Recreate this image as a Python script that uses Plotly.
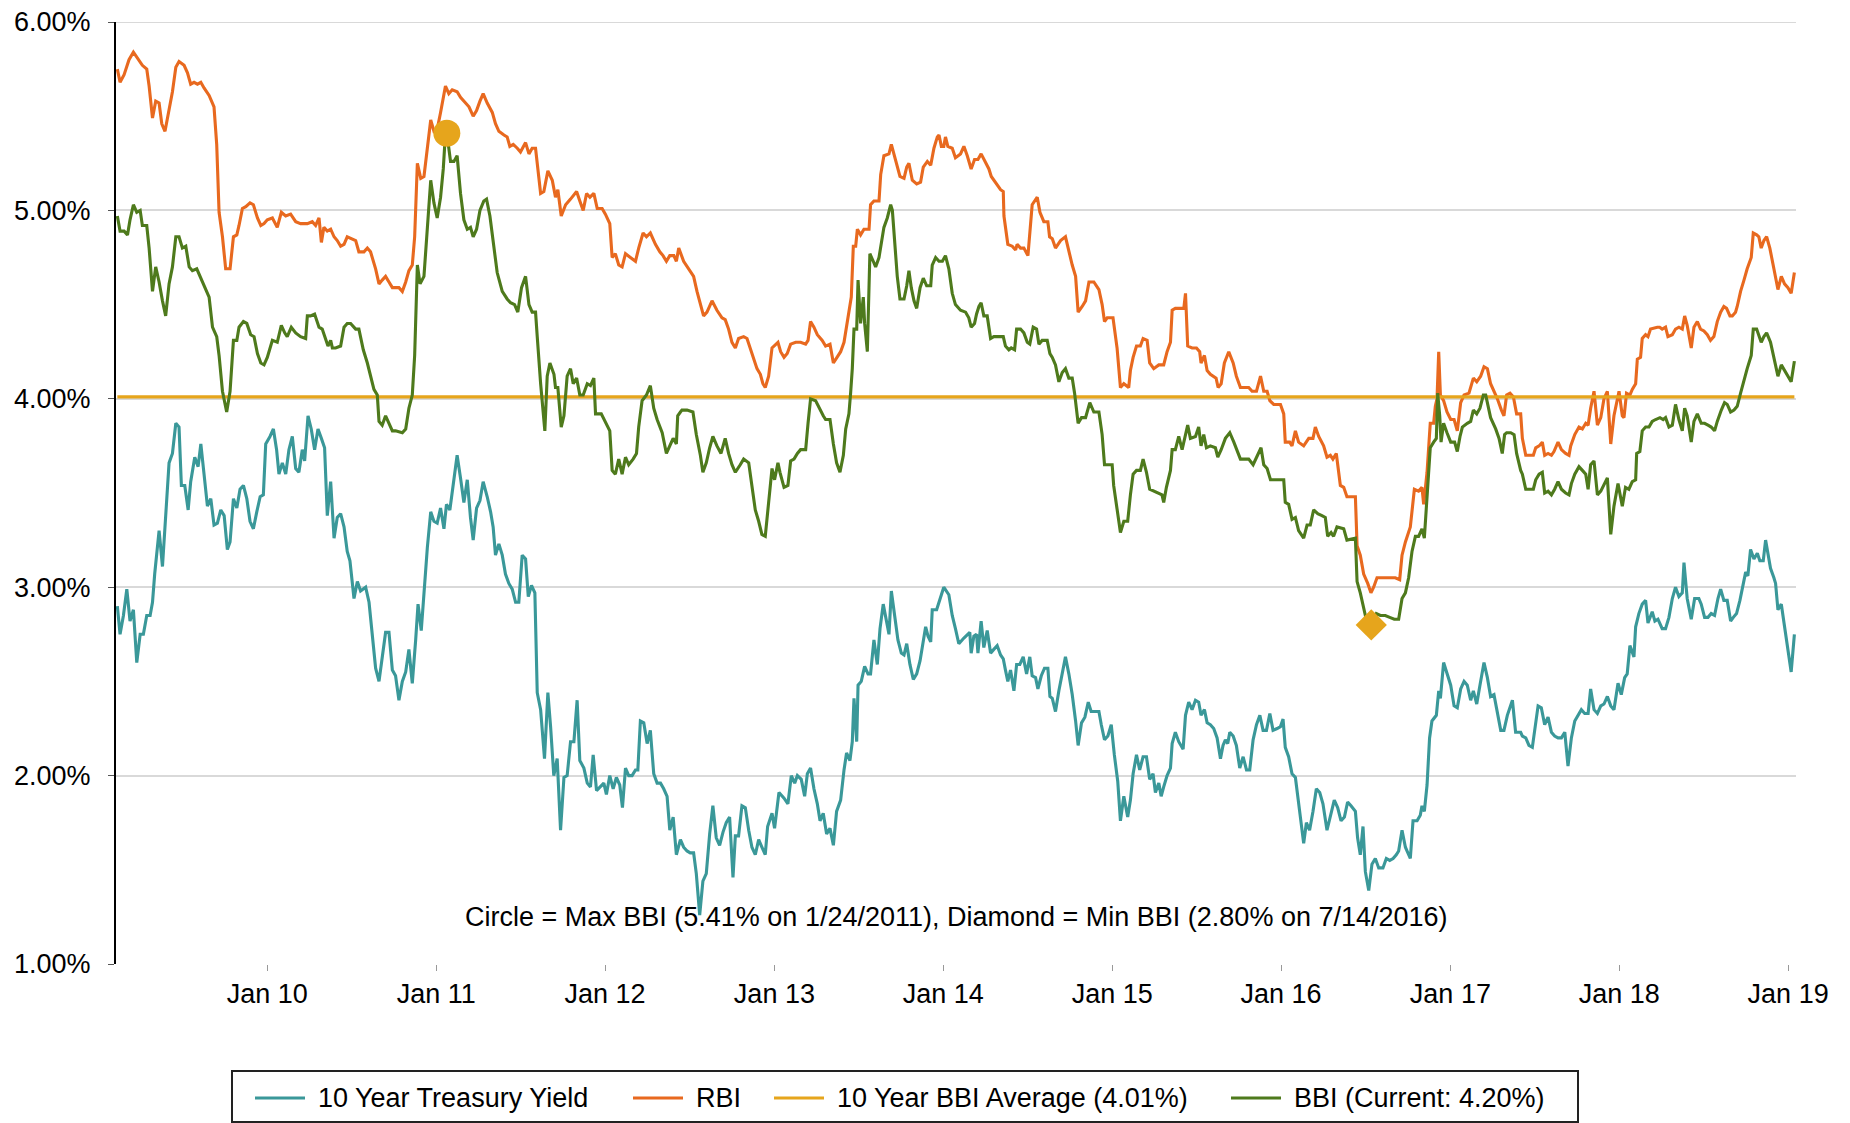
import pandas as pd
import plotly.graph_objects as go

# ---------------- data (decimal years, percent values) ----------------
rbi_t = [2009.112,2009.128,2009.152,2009.181,2009.207,2009.231,2009.260,2009.286,2009.300,2009.320,2009.339,2009.359,2009.375,2009.394,2009.418,2009.438,2009.458,2009.477,2009.507,2009.527,2009.546,2009.566,2009.586,2009.606,2009.625,2009.655,2009.684,2009.700,2009.714,2009.734,2009.753,2009.779,2009.799,2009.819,2009.832,2009.852,2009.872,2009.897,2009.917,2009.941,2009.961,2009.980,2010.000,2010.030,2010.059,2010.083,2010.109,2010.138,2010.168,2010.197,2010.237,2010.266,2010.286,2010.306,2010.320,2010.335,2010.355,2010.375,2010.395,2010.414,2010.434,2010.454,2010.473,2010.503,2010.523,2010.542,2010.572,2010.592,2010.611,2010.641,2010.661,2010.680,2010.700,2010.720,2010.740,
2010.779,2010.799,2010.819,2010.838,2010.858,2010.872,2010.888,2010.908,2010.927,2010.947,2010.967,2010.986,2011.006,2011.026,2011.042,2011.055,2011.075,2011.095,2011.124,2011.144,2011.174,2011.194,2011.219,2011.239,2011.259,2011.278,2011.302,2011.332,2011.351,2011.371,2011.401,2011.420,2011.436,2011.456,2011.480,2011.499,2011.529,2011.549,2011.568,2011.588,2011.618,2011.637,2011.661,2011.687,2011.706,2011.720,2011.740,2011.766,2011.795,2011.831,2011.850,2011.870,2011.890,2011.910,2011.933,2011.953,2011.982,2012.002,2012.028,2012.042,2012.061,2012.081,2012.101,2012.121,2012.150,2012.180,2012.199,2012.225,2012.245,2012.268,2012.298,2012.324,2012.343,2012.363,2012.383,2012.407,2012.422,2012.436,
2012.465,2012.494,2012.524,2012.544,2012.564,2012.583,2012.603,2012.633,2012.662,2012.692,2012.711,2012.731,2012.751,2012.771,2012.790,2012.820,2012.840,2012.859,2012.879,2012.899,2012.919,2012.934,2012.948,2012.968,2012.988,2013.021,2013.037,2013.057,2013.076,2013.096,2013.126,2013.155,2013.185,2013.199,2013.214,2013.234,2013.254,2013.283,2013.303,2013.329,2013.349,2013.368,2013.392,2013.412,2013.427,2013.441,2013.455,2013.467,2013.481,2013.491,2013.510,2013.530,2013.560,2013.569,2013.589,2013.619,2013.629,2013.648,2013.678,2013.692,2013.717,2013.743,2013.767,2013.783,2013.796,2013.816,2013.842,2013.865,2013.881,2013.905,2013.925,2013.944,2013.964,2013.974,2013.988,2014.003,2014.013,2014.027,2014.053,2014.072,2014.102,
2014.122,2014.142,2014.165,2014.185,2014.205,2014.224,2014.240,2014.270,2014.284,2014.309,2014.339,2014.355,2014.359,2014.382,2014.408,2014.428,2014.437,2014.457,2014.477,2014.501,2014.516,2014.526,2014.556,2014.572,2014.595,2014.619,2014.629,2014.645,2014.664,2014.694,2014.723,2014.743,2014.763,2014.783,2014.798,2014.822,2014.842,2014.862,2014.891,2014.921,2014.940,2014.954,2014.970,2015.005,2015.029,2015.049,2015.069,2015.098,2015.108,2015.124,2015.144,2015.167,2015.183,2015.207,2015.222,2015.246,2015.276,2015.305,2015.325,2015.345,2015.355,2015.374,2015.424,2015.434,2015.447,2015.473,2015.499,2015.518,2015.526,2015.546,2015.562,2015.581,2015.601,2015.615,2015.627,2015.645,2015.664,2015.690,2015.716,2015.735,2015.759,
2015.779,2015.808,2015.828,2015.854,2015.878,2015.897,2015.917,2015.933,2015.956,2015.996,2016.016,2016.025,2016.051,2016.065,2016.085,2016.104,2016.134,2016.164,2016.189,2016.203,2016.223,2016.252,2016.272,2016.292,2016.307,2016.327,2016.351,2016.371,2016.390,2016.440,2016.450,2016.469,2016.489,2016.513,2016.532,2016.548,2016.568,2016.676,2016.702,2016.716,2016.736,2016.765,2016.789,2016.814,2016.834,2016.844,2016.864,2016.883,2016.903,2016.913,2016.923,2016.933,2016.943,2016.962,2016.982,2017.002,2017.022,2017.041,2017.061,2017.081,2017.110,2017.136,2017.156,2017.179,2017.199,2017.219,2017.238,2017.258,2017.278,2017.302,2017.317,2017.333,2017.353,2017.373,2017.392,2017.416,
2017.426,2017.446,2017.491,2017.505,2017.525,2017.544,2017.558,2017.578,2017.598,2017.613,2017.637,2017.657,2017.682,2017.702,2017.712,2017.736,2017.761,2017.781,2017.801,2017.815,2017.830,2017.850,2017.870,2017.890,2017.909,2017.929,2017.949,2017.968,2017.988,2017.998,2018.018,2018.028,2018.043,2018.063,2018.077,2018.097,2018.107,2018.126,2018.136,2018.156,2018.170,2018.185,2018.225,2018.239,2018.254,2018.274,2018.288,2018.314,2018.333,2018.353,2018.373,2018.387,2018.402,2018.412,2018.426,2018.442,2018.462,2018.481,2018.501,2018.521,2018.540,2018.560,2018.580,2018.600,2018.619,2018.635,2018.655,2018.669,2018.688,2018.698,2018.718,2018.738,2018.757,2018.781,2018.793,2018.813,2018.826,2018.840,2018.856,2018.872,2018.891,2018.915,2018.939,2018.959,2018.978,2018.998,2019.018,2019.037]
rbi_v = [5.75,5.68,5.72,5.80,5.84,5.81,5.77,5.75,5.66,5.49,5.58,5.57,5.46,5.42,5.54,5.63,5.76,5.79,5.77,5.73,5.67,5.68,5.67,5.68,5.65,5.61,5.55,5.35,4.99,4.86,4.69,4.69,4.86,4.87,4.92,5.01,5.02,5.04,5.03,4.96,4.92,4.93,4.95,4.96,4.91,4.99,4.97,4.98,4.94,4.93,4.93,4.94,4.92,4.96,4.83,4.91,4.89,4.90,4.86,4.84,4.81,4.82,4.86,4.85,4.84,4.78,4.78,4.80,4.78,4.69,4.61,4.63,4.65,4.62,4.59,
4.59,4.57,4.62,4.68,4.71,4.86,5.25,5.17,5.18,5.33,5.48,5.42,5.43,5.52,5.61,5.66,5.62,5.64,5.63,5.60,5.57,5.55,5.50,5.53,5.58,5.62,5.57,5.52,5.46,5.42,5.40,5.39,5.34,5.35,5.33,5.31,5.36,5.30,5.33,5.33,5.09,5.10,5.21,5.16,5.07,5.11,4.97,5.03,5.06,5.10,5.05,5.00,5.09,5.07,5.09,5.01,5.01,4.98,4.93,4.75,4.77,4.71,4.70,4.77,4.75,4.73,4.80,4.88,4.86,4.88,4.82,4.78,4.76,4.73,4.76,4.76,4.73,4.80,
4.73,4.69,4.65,4.57,4.51,4.44,4.46,4.52,4.47,4.43,4.42,4.37,4.30,4.27,4.32,4.33,4.32,4.27,4.21,4.16,4.13,4.08,4.06,4.12,4.27,4.30,4.25,4.22,4.24,4.29,4.30,4.30,4.29,4.31,4.41,4.38,4.34,4.31,4.28,4.29,4.19,4.22,4.25,4.30,4.39,4.46,4.54,4.81,4.81,4.90,4.87,4.90,4.90,5.03,5.05,5.05,5.19,5.29,5.30,5.35,5.26,5.18,5.17,5.23,5.25,5.16,5.14,5.15,5.23,5.26,5.24,5.33,5.39,5.40,5.34,5.34,5.39,5.34,5.33,5.28,5.30,
5.34,5.29,5.22,5.27,5.27,5.30,5.27,5.22,5.18,5.15,5.11,5.10,4.97,4.82,4.81,4.79,4.82,4.80,4.80,4.76,4.90,5.03,5.07,4.99,4.94,4.94,4.86,4.85,4.80,4.84,4.86,4.78,4.71,4.65,4.46,4.49,4.52,4.62,4.62,4.58,4.50,4.41,4.43,4.43,4.27,4.06,4.08,4.06,4.15,4.22,4.28,4.28,4.32,4.31,4.19,4.16,4.18,4.18,4.25,4.30,4.47,4.48,4.48,4.56,4.28,4.27,4.27,4.25,4.19,4.23,4.15,4.13,4.12,4.11,4.06,4.08,4.19,4.25,4.19,4.12,4.06,
4.06,4.06,4.04,4.04,4.12,4.04,4.04,3.99,3.97,3.97,3.92,3.77,3.77,3.75,3.83,3.77,3.75,3.79,3.79,3.85,3.80,3.75,3.69,3.70,3.68,3.71,3.54,3.53,3.48,3.48,3.22,3.17,3.07,3.02,2.97,3.00,3.05,3.05,3.04,3.17,3.24,3.32,3.52,3.51,3.53,3.44,3.61,3.87,3.87,3.96,4.00,4.25,4.02,3.99,3.93,3.89,3.89,3.83,3.98,4.02,4.03,4.11,4.09,4.12,4.17,4.16,4.08,4.04,4.00,3.94,3.91,4.02,4.03,4.01,3.92,3.92,
3.79,3.70,3.70,3.74,3.75,3.77,3.70,3.71,3.70,3.72,3.77,3.73,3.71,3.70,3.75,3.81,3.85,3.84,3.87,3.86,3.95,4.04,3.86,3.90,4.00,4.04,3.76,3.91,4.01,4.04,3.91,3.90,4.03,4.02,4.05,4.08,4.21,4.22,4.32,4.34,4.33,4.37,4.38,4.38,4.37,4.38,4.33,4.34,4.37,4.38,4.37,4.44,4.39,4.34,4.27,4.38,4.41,4.37,4.36,4.34,4.31,4.33,4.41,4.46,4.49,4.48,4.44,4.44,4.46,4.49,4.57,4.63,4.69,4.75,4.88,4.87,4.86,4.80,4.84,4.86,4.80,4.69,4.58,4.65,4.61,4.59,4.56,4.67]

bbi_t = [2009.112,2009.128,2009.152,2009.172,2009.187,2009.207,2009.227,2009.247,2009.260,2009.286,2009.300,2009.320,2009.339,2009.359,2009.379,2009.398,2009.418,2009.438,2009.458,2009.477,2009.497,2009.517,2009.537,2009.556,2009.582,2009.602,2009.625,2009.655,2009.675,2009.700,2009.714,2009.734,2009.759,2009.779,2009.799,2009.819,2009.832,2009.858,2009.878,2009.901,2009.921,2009.941,2009.961,2009.980,2010.000,2010.030,2010.059,2010.083,2010.103,2010.118,2010.142,2010.168,2010.197,2010.227,2010.237,2010.256,2010.280,2010.306,2010.325,2010.345,2010.359,2010.375,2010.385,2010.404,2010.434,2010.454,2010.473,2010.493,2010.523,2010.542,2010.568,2010.592,2010.611,2010.631,2010.651,2010.661,2010.680,2010.700,2010.720,2010.740,2010.759,2010.789,
2010.799,2010.819,2010.838,2010.858,2010.872,2010.888,2010.904,2010.927,2010.947,2010.967,2010.986,2011.006,2011.026,2011.042,2011.055,2011.069,2011.085,2011.105,2011.124,2011.144,2011.164,2011.184,2011.203,2011.219,2011.239,2011.259,2011.282,2011.298,2011.318,2011.341,2011.361,2011.391,2011.420,2011.440,2011.464,2011.483,2011.505,2011.529,2011.549,2011.568,2011.588,2011.598,2011.618,2011.643,2011.657,2011.673,2011.697,2011.706,2011.720,2011.740,2011.756,2011.775,2011.795,2011.811,2011.831,2011.850,2011.870,2011.894,2011.913,2011.933,2011.943,2011.977,2012.002,2012.028,2012.042,2012.061,2012.081,2012.101,2012.121,2012.140,2012.166,2012.186,2012.199,2012.219,2012.245,2012.268,2012.288,2012.308,2012.338,2012.363,2012.383,2012.403,2012.422,2012.430,2012.446,
2012.455,2012.485,2012.520,2012.540,2012.564,2012.579,2012.599,2012.619,2012.638,2012.662,2012.686,2012.711,2012.731,2012.751,2012.771,2012.800,2012.820,2012.850,2012.869,2012.889,2012.909,2012.928,2012.948,2012.968,2012.988,2013.001,2013.021,2013.033,2013.057,2013.080,2013.096,2013.116,2013.136,2013.155,2013.185,2013.199,2013.214,2013.244,2013.270,2013.289,2013.303,2013.329,2013.349,2013.368,2013.388,2013.408,2013.422,2013.441,2013.451,2013.461,2013.471,2013.487,2013.495,2013.510,2013.526,2013.534,2013.550,2013.565,2013.585,2013.599,2013.619,2013.633,2013.648,2013.668,2013.688,2013.698,2013.711,2013.727,2013.743,2013.767,2013.783,2013.796,2013.810,2013.826,2013.842,2013.862,2013.881,2013.901,2013.925,2013.934,2013.954,2013.974,2013.994,2014.013,2014.033,2014.053,2014.072,2014.102,
2014.132,2014.151,2014.165,2014.185,2014.197,2014.211,2014.224,2014.240,2014.260,2014.280,2014.299,2014.329,2014.355,2014.368,2014.388,2014.402,2014.422,2014.434,2014.457,2014.477,2014.497,2014.512,2014.532,2014.552,2014.566,2014.585,2014.615,2014.631,2014.645,2014.664,2014.684,2014.704,2014.723,2014.743,2014.763,2014.777,2014.798,2014.818,2014.842,2014.867,2014.891,2014.921,2014.940,2014.954,2015.000,2015.009,2015.029,2015.049,2015.069,2015.092,2015.108,2015.124,2015.144,2015.167,2015.183,2015.203,2015.222,2015.246,2015.295,2015.305,2015.321,2015.345,2015.355,2015.374,2015.394,2015.414,2015.434,2015.447,2015.463,2015.493,2015.512,2015.526,2015.542,2015.558,2015.581,2015.611,2015.625,2015.645,2015.670,2015.696,2015.720,2015.739,2015.759,
2015.779,2015.808,2015.834,2015.858,2015.881,2015.897,2015.917,2015.937,2016.016,2016.025,2016.045,2016.065,2016.085,2016.104,2016.134,2016.154,2016.173,2016.193,2016.217,2016.242,2016.262,2016.276,2016.296,2016.311,2016.331,2016.371,2016.390,2016.440,2016.450,2016.469,2016.489,2016.509,2016.533,2016.564,2016.588,2016.617,2016.643,2016.670,2016.696,2016.716,2016.736,2016.755,2016.775,2016.795,2016.814,2016.834,2016.848,2016.864,2016.883,2016.903,2016.919,2016.927,2016.939,2016.947,2016.962,2016.982,2017.002,2017.025,2017.041,2017.057,2017.071,2017.100,2017.120,2017.136,2017.156,2017.175,2017.195,2017.209,2017.223,2017.238,2017.268,2017.288,2017.307,2017.321,2017.333,2017.357,2017.377,2017.392,2017.416,
2017.426,2017.446,2017.491,2017.505,2017.525,2017.544,2017.558,2017.578,2017.598,2017.617,2017.637,2017.657,2017.682,2017.702,2017.716,2017.736,2017.761,2017.781,2017.801,2017.815,2017.830,2017.850,2017.870,2017.890,2017.909,2017.929,2017.949,2017.968,2017.992,2018.018,2018.037,2018.057,2018.077,2018.097,2018.103,2018.122,2018.136,2018.156,2018.176,2018.195,2018.215,2018.241,2018.260,2018.274,2018.294,2018.314,2018.333,2018.353,2018.373,2018.387,2018.402,2018.426,2018.442,2018.462,2018.485,2018.505,2018.525,2018.544,2018.564,2018.580,2018.604,2018.623,2018.639,2018.659,2018.679,2018.698,2018.718,2018.738,2018.757,2018.781,2018.793,2018.813,2018.826,2018.840,2018.856,2018.872,2018.895,2018.915,2018.939,2018.959,2018.978,2018.998,2019.018,2019.037]
bbi_v = [4.97,4.89,4.89,4.87,4.95,5.03,4.99,5.00,4.92,4.92,4.80,4.57,4.70,4.62,4.52,4.44,4.61,4.70,4.86,4.86,4.80,4.81,4.70,4.68,4.69,4.65,4.61,4.54,4.38,4.33,4.23,4.04,3.93,4.04,4.31,4.31,4.38,4.41,4.40,4.34,4.33,4.24,4.19,4.18,4.22,4.31,4.30,4.39,4.35,4.33,4.38,4.35,4.33,4.32,4.44,4.44,4.45,4.38,4.37,4.31,4.28,4.31,4.27,4.27,4.28,4.38,4.40,4.40,4.37,4.37,4.26,4.19,4.12,4.05,4.02,3.88,3.86,3.91,3.87,3.83,3.83,3.82,
3.82,3.84,3.95,4.02,4.23,4.71,4.61,4.65,4.92,5.16,5.04,4.96,5.07,5.22,5.41,5.37,5.26,5.26,5.29,5.09,4.95,4.90,4.91,4.86,4.90,5.00,5.05,5.06,4.97,4.82,4.67,4.57,4.53,4.51,4.50,4.46,4.59,4.65,4.50,4.46,4.46,4.33,4.08,3.83,4.12,4.19,4.13,4.06,4.06,3.85,3.91,4.12,4.16,4.08,4.11,4.02,4.02,4.08,4.07,4.11,3.92,3.92,3.88,3.83,3.62,3.60,3.68,3.60,3.69,3.65,3.68,3.71,3.85,3.99,4.02,4.07,3.95,3.89,3.82,3.71,3.75,3.79,3.76,3.91,3.93,
3.94,3.94,3.93,3.81,3.70,3.61,3.66,3.74,3.80,3.75,3.71,3.79,3.71,3.65,3.61,3.65,3.68,3.66,3.53,3.41,3.35,3.28,3.27,3.45,3.63,3.57,3.66,3.61,3.53,3.54,3.67,3.68,3.71,3.73,3.73,3.87,4.00,3.99,3.94,3.91,3.89,3.89,3.76,3.66,3.61,3.70,3.84,3.92,4.03,4.16,4.37,4.37,4.63,4.40,4.54,4.40,4.25,4.77,4.73,4.70,4.75,4.83,4.91,4.96,5.03,5.00,4.86,4.65,4.53,4.53,4.60,4.68,4.59,4.52,4.48,4.59,4.64,4.60,4.60,4.71,4.75,4.73,4.73,4.76,4.69,4.56,4.50,4.47,
4.46,4.43,4.38,4.40,4.45,4.49,4.51,4.44,4.44,4.32,4.33,4.33,4.33,4.28,4.26,4.27,4.26,4.37,4.37,4.35,4.30,4.29,4.38,4.37,4.29,4.31,4.31,4.24,4.22,4.18,4.09,4.14,4.16,4.11,4.11,4.03,3.87,3.90,3.90,3.98,3.93,3.93,3.81,3.65,3.65,3.54,3.41,3.29,3.35,3.35,3.49,3.60,3.62,3.62,3.68,3.61,3.52,3.51,3.49,3.45,3.53,3.62,3.73,3.73,3.80,3.73,3.82,3.86,3.79,3.80,3.85,3.75,3.81,3.74,3.75,3.74,3.69,3.73,3.79,3.82,3.77,3.72,3.68,
3.68,3.68,3.65,3.70,3.74,3.65,3.63,3.57,3.57,3.45,3.44,3.36,3.37,3.30,3.26,3.33,3.33,3.41,3.39,3.38,3.37,3.27,3.29,3.27,3.32,3.31,3.25,3.26,3.03,2.97,2.88,2.81,2.80,2.86,2.85,2.85,2.84,2.83,2.83,2.94,2.97,3.05,3.19,3.27,3.27,3.31,3.26,3.47,3.74,3.77,3.79,4.03,3.91,3.77,3.87,3.82,3.77,3.77,3.72,3.80,3.85,3.87,3.88,3.94,3.92,3.95,4.02,4.02,3.96,3.90,3.84,3.79,3.71,3.81,3.82,3.82,3.81,3.71,3.62,
3.60,3.52,3.52,3.57,3.60,3.61,3.50,3.51,3.49,3.52,3.56,3.52,3.50,3.49,3.55,3.60,3.64,3.62,3.60,3.52,3.65,3.67,3.49,3.51,3.54,3.58,3.28,3.43,3.55,3.43,3.53,3.52,3.56,3.57,3.71,3.72,3.83,3.85,3.85,3.88,3.89,3.90,3.89,3.90,3.85,3.86,3.97,3.89,3.83,3.95,3.91,3.77,3.88,3.92,3.87,3.87,3.86,3.85,3.83,3.88,3.94,3.98,3.97,3.93,3.94,3.96,4.03,4.10,4.16,4.23,4.37,4.37,4.34,4.30,4.33,4.35,4.30,4.22,4.12,4.18,4.15,4.12,4.09,4.20]

tsy_t = [2009.112,2009.128,2009.148,2009.168,2009.187,2009.207,2009.227,2009.247,2009.266,2009.286,2009.306,2009.320,2009.333,2009.359,2009.379,2009.398,2009.418,2009.438,2009.458,2009.477,2009.491,2009.511,2009.531,2009.546,2009.570,2009.590,2009.606,2009.625,2009.645,2009.665,2009.684,2009.704,2009.724,2009.744,2009.763,2009.779,2009.799,2009.819,2009.838,2009.858,2009.878,2009.897,2009.917,2009.937,2009.957,2009.976,2009.990,2010.016,2010.036,2010.055,2010.069,2010.089,2010.109,2010.128,2010.148,2010.168,2010.187,2010.207,2010.221,2010.241,2010.260,2010.280,2010.300,2010.320,2010.339,2010.355,2010.375,2010.395,2010.414,2010.434,2010.454,2010.473,2010.489,2010.513,2010.533,2010.552,2010.582,2010.602,2010.621,2010.641,2010.661,2010.680,2010.700,2010.720,2010.740,2010.759,2010.779,
2010.799,2010.819,2010.838,2010.858,2010.878,2010.892,2010.911,2010.927,2010.947,2010.967,2010.986,2011.006,2011.026,2011.046,2011.061,2011.081,2011.101,2011.124,2011.144,2011.164,2011.184,2011.203,2011.219,2011.239,2011.259,2011.278,2011.302,2011.322,2011.337,2011.351,2011.371,2011.391,2011.410,2011.430,2011.450,2011.470,2011.489,2011.509,2011.529,2011.545,2011.564,2011.584,2011.598,2011.618,2011.641,2011.661,2011.677,2011.696,2011.716,2011.736,2011.756,2011.775,2011.795,2011.815,2011.834,2011.850,2011.874,2011.894,2011.913,2011.929,2011.949,2011.969,2011.992,2012.008,2012.028,2012.048,2012.067,2012.087,2012.103,2012.121,2012.140,2012.160,2012.180,2012.194,2012.209,2012.229,2012.249,2012.268,2012.288,2012.308,2012.328,2012.347,2012.367,2012.383,2012.403,2012.422,2012.446,
2012.465,2012.485,2012.504,2012.524,2012.540,2012.560,2012.579,2012.599,2012.619,2012.638,2012.658,2012.678,2012.698,2012.717,2012.737,2012.757,2012.771,2012.790,2012.810,2012.830,2012.850,2012.869,2012.889,2012.909,2012.928,2012.948,2012.962,2012.988,2013.001,2013.027,2013.057,2013.080,2013.100,2013.120,2013.136,2013.159,2013.179,2013.195,2013.214,2013.234,2013.254,2013.270,2013.289,2013.309,2013.329,2013.349,2013.368,2013.392,2013.412,2013.427,2013.447,2013.461,2013.471,2013.487,2013.495,2013.514,2013.534,2013.554,2013.569,2013.589,2013.609,2013.625,2013.644,2013.664,2013.678,2013.692,2013.711,2013.731,2013.751,2013.767,2013.783,2013.802,2013.822,2013.842,2013.862,2013.881,2013.895,2013.909,2013.925,2013.934,2013.960,2013.974,2014.003,2014.033,2014.053,2014.072,2014.092,
2014.122,2014.142,2014.157,2014.165,2014.181,2014.197,2014.205,2014.224,2014.240,2014.260,2014.280,2014.299,2014.319,2014.339,2014.355,2014.368,2014.382,2014.398,2014.418,2014.434,2014.453,2014.473,2014.493,2014.512,2014.526,2014.546,2014.560,2014.580,2014.599,2014.619,2014.631,2014.645,2014.664,2014.684,2014.704,2014.723,2014.743,2014.763,2014.783,2014.798,2014.818,2014.838,2014.858,2014.875,2014.901,2014.921,2014.935,2014.954,2014.974,2014.994,2015.013,2015.033,2015.049,2015.069,2015.092,2015.108,2015.124,2015.144,2015.163,2015.183,2015.203,2015.222,2015.242,2015.256,2015.276,2015.290,2015.305,2015.325,2015.345,2015.355,2015.374,2015.394,2015.420,2015.434,2015.453,2015.473,2015.493,2015.512,2015.526,2015.546,2015.562,2015.581,2015.601,2015.621,2015.641,2015.656,2015.670,2015.684,2015.696,2015.716,2015.735,2015.755,
2015.775,2015.795,2015.814,2015.834,2015.854,2015.874,2015.893,2015.913,2015.933,2015.952,2015.976,2015.996,2016.012,2016.025,2016.045,2016.065,2016.085,2016.104,2016.118,2016.134,2016.150,2016.169,2016.189,2016.209,2016.229,2016.248,2016.272,2016.292,2016.315,2016.335,2016.355,2016.375,2016.394,2016.414,2016.440,2016.453,2016.469,2016.485,2016.499,2016.519,2016.538,2016.558,2016.578,2016.603,2016.623,2016.643,2016.663,2016.682,2016.696,2016.716,2016.736,2016.765,2016.781,2016.805,2016.824,2016.834,2016.848,2016.864,2016.879,2016.893,2016.919,2016.933,2016.943,2016.962,2016.982,2017.002,2017.022,2017.041,2017.061,2017.081,2017.100,2017.120,2017.136,2017.156,2017.175,2017.199,2017.219,2017.238,2017.258,2017.278,2017.298,2017.317,2017.337,2017.367,2017.386,2017.416,
2017.426,2017.446,2017.465,2017.485,2017.505,2017.519,2017.538,2017.558,2017.578,2017.598,2017.617,2017.637,2017.657,2017.677,2017.696,2017.716,2017.736,2017.755,2017.775,2017.795,2017.815,2017.830,2017.850,2017.870,2017.890,2017.909,2017.929,2017.949,2017.968,2017.992,2018.012,2018.032,2018.047,2018.063,2018.087,2018.097,2018.116,2018.136,2018.156,2018.170,2018.195,2018.211,2018.229,2018.254,2018.274,2018.294,2018.314,2018.333,2018.353,2018.373,2018.383,2018.402,2018.426,2018.446,2018.471,2018.485,2018.505,2018.525,2018.544,2018.564,2018.584,2018.600,2018.619,2018.639,2018.659,2018.675,2018.694,2018.714,2018.734,2018.748,2018.761,2018.777,2018.797,2018.817,2018.832,2018.852,2018.866,2018.886,2018.895,2018.915,2018.925,2018.939,2018.959,2018.975,2018.994,2019.018,2019.037]
tsy_v = [2.90,2.75,2.85,2.99,2.82,2.88,2.60,2.75,2.75,2.85,2.85,2.92,3.07,3.30,3.11,3.40,3.66,3.71,3.87,3.85,3.54,3.54,3.41,3.56,3.69,3.64,3.76,3.60,3.43,3.47,3.33,3.34,3.41,3.38,3.20,3.24,3.47,3.42,3.52,3.54,3.47,3.35,3.31,3.40,3.48,3.49,3.76,3.80,3.84,3.73,3.60,3.66,3.60,3.73,3.80,3.63,3.61,3.73,3.67,3.91,3.84,3.73,3.84,3.79,3.74,3.38,3.56,3.26,3.37,3.39,3.32,3.19,3.14,2.94,3.03,2.98,3.00,2.92,2.74,2.57,2.50,2.63,2.76,2.76,2.56,2.53,2.40,
2.50,2.55,2.67,2.49,2.72,2.91,2.77,2.97,3.21,3.40,3.35,3.34,3.42,3.31,3.44,3.41,3.54,3.70,3.58,3.45,3.57,3.37,3.25,3.42,3.46,3.56,3.48,3.40,3.32,3.17,3.23,3.17,3.07,3.02,2.99,2.92,2.92,3.17,3.15,2.95,3.01,2.97,2.44,2.35,2.09,2.44,2.26,2.00,2.09,1.71,1.99,2.00,2.18,2.18,2.40,2.08,2.04,1.96,1.94,2.11,1.92,1.94,1.96,1.90,2.00,1.93,1.99,1.95,1.83,2.04,2.00,2.00,2.03,2.03,2.29,2.28,2.17,2.24,2.01,1.96,1.96,1.93,1.89,1.71,1.78,1.58,1.66,
1.62,1.60,1.59,1.59,1.48,1.26,1.44,1.48,1.69,1.84,1.67,1.63,1.70,1.75,1.78,1.46,1.68,1.68,1.84,1.83,1.71,1.62,1.58,1.66,1.62,1.58,1.73,1.80,1.72,1.91,1.88,1.85,2.00,1.96,2.00,1.98,1.89,2.01,2.04,1.93,1.85,1.76,1.80,1.69,1.72,1.63,1.81,1.87,2.03,2.12,2.08,2.18,2.41,2.18,2.48,2.50,2.58,2.54,2.54,2.72,2.59,2.78,2.91,2.81,2.75,2.98,2.86,2.72,2.65,2.64,2.70,2.59,2.51,2.54,2.61,2.72,2.79,2.74,2.71,2.88,2.88,2.92,3.00,2.96,2.85,2.78,2.70,
2.73,2.75,2.76,2.65,2.74,2.75,2.65,2.82,2.68,2.77,2.65,2.67,2.69,2.64,2.62,2.56,2.50,2.56,2.45,2.59,2.59,2.63,2.54,2.63,2.53,2.52,2.46,2.53,2.57,2.57,2.42,2.41,2.34,2.45,2.55,2.63,2.54,2.43,2.29,2.16,2.28,2.31,2.39,2.34,2.34,2.34,2.27,2.19,2.21,2.27,2.11,1.97,1.76,1.89,1.78,1.87,2.01,2.11,2.03,2.10,2.10,1.98,2.01,1.91,1.96,1.89,1.94,2.00,2.04,2.17,2.23,2.18,2.14,2.32,2.39,2.35,2.40,2.39,2.32,2.35,2.28,2.27,2.25,2.20,2.09,2.16,2.19,2.17,2.23,2.21,2.16,2.04,
2.10,2.03,2.03,2.19,2.27,2.32,2.24,2.24,2.33,2.24,2.25,2.26,2.30,2.15,2.10,2.01,1.99,1.86,1.75,1.64,1.75,1.71,1.81,1.93,1.91,1.85,1.71,1.78,1.87,1.83,1.76,1.78,1.86,1.84,1.81,1.67,1.58,1.73,1.49,1.39,1.53,1.56,1.51,1.51,1.56,1.55,1.56,1.58,1.60,1.71,1.62,1.56,1.76,1.76,1.79,1.84,1.81,1.95,2.20,2.29,2.32,2.45,2.41,2.60,2.54,2.48,2.37,2.36,2.46,2.50,2.48,2.40,2.45,2.38,2.48,2.60,2.52,2.42,2.43,2.33,2.24,2.24,2.32,2.40,2.23,2.23,
2.21,2.20,2.16,2.15,2.28,2.37,2.36,2.27,2.31,2.23,2.21,2.20,2.20,2.23,2.05,2.20,2.29,2.32,2.35,2.33,2.33,2.46,2.35,2.33,2.37,2.38,2.42,2.37,2.35,2.49,2.43,2.52,2.54,2.69,2.63,2.79,2.86,2.91,2.93,2.81,2.87,2.82,2.83,2.78,2.78,2.84,2.94,3.00,2.95,2.97,3.13,2.94,2.83,2.94,2.94,2.91,2.84,2.84,2.86,2.85,2.94,2.99,2.93,2.93,2.82,2.84,2.86,2.93,3.01,3.08,3.06,3.20,3.15,3.18,3.14,3.14,3.25,3.16,3.10,3.05,3.02,2.88,2.91,2.81,2.68,2.55,2.75]

avg_value = 4.01
max_date, max_value = "2011-01-24", 5.41
min_date, min_value = "2016-07-14", 2.80

tick_vals = ["2010-01-01", "2011-01-01", "2012-01-01", "2013-01-01", "2014-01-01",
             "2015-01-01", "2016-01-01", "2017-01-01", "2018-01-01", "2019-01-01"]
tick_text = ["Jan 10", "Jan 11", "Jan 12", "Jan 13", "Jan 14",
             "Jan 15", "Jan 16", "Jan 17", "Jan 18", "Jan 19"]

note_text = "Circle = Max BBI (5.41% on 1/24/2011), Diamond = Min BBI (2.80% on 7/14/2016)"

legend_names = ["10 Year Treasury Yield", "RBI", "10 Year BBI Average (4.01%)", "BBI (Current: 4.20%)"]


def to_dates(years):
    out = []
    for y in years:
        base = pd.Timestamp(int(y), 1, 1)
        out.append(base + pd.Timedelta(days=(y - int(y)) * 365.25))
    return out


TEAL = "#3a9899"
ORANGE = "#e8691f"
GOLD = "#e6a51c"
GREEN = "#4e7a1c"
COLORS = [TEAL, ORANGE, GOLD, GREEN]
FONT = "Arial, Liberation Sans, sans-serif"
FS = 27
LW = 3.1

# figure geometry (the page body adds an 8px offset)
W, H = 1842, 1115
ML, MR, MT, MB = 108, 54, 14, 159
PW, PH = W - ML - MR, H - MT - MB


def px(x):
    return (x - ML) / PW


def py(y):
    return 1 - (y - MT) / PH


tsy_d = to_dates(tsy_t)
rbi_d = to_dates(rbi_t)
bbi_d = to_dates(bbi_t)

fig = go.Figure()
fig.add_trace(go.Scatter(x=tsy_d, y=tsy_v, mode="lines", name=legend_names[0],
                         line=dict(color=TEAL, width=LW), showlegend=False))
fig.add_trace(go.Scatter(x=rbi_d, y=rbi_v, mode="lines", name=legend_names[1],
                         line=dict(color=ORANGE, width=LW), showlegend=False))
fig.add_trace(go.Scatter(x=[bbi_d[0], bbi_d[-1]], y=[avg_value, avg_value], mode="lines",
                         name=legend_names[2], line=dict(color=GOLD, width=LW), showlegend=False))
fig.add_trace(go.Scatter(x=bbi_d, y=bbi_v, mode="lines", name=legend_names[3],
                         line=dict(color=GREEN, width=LW), showlegend=False))
fig.add_trace(go.Scatter(x=[max_date], y=[max_value], mode="markers", showlegend=False,
                         marker=dict(symbol="circle", size=27, color=GOLD)))
fig.add_trace(go.Scatter(x=[min_date], y=[min_value], mode="markers", showlegend=False,
                         marker=dict(symbol="diamond", size=24, color=GOLD)))

fig.add_annotation(x=0.5, xref="paper", y=1.25, yref="y", text=note_text, showarrow=False,
                   font=dict(size=FS, color="#000000", family=FONT))

# top gridline (at the edge of the plotting area)
shapes = [dict(type="line", xref="paper", yref="y", x0=0, x1=1, y0=6, y1=6,
               line=dict(color="#d9d9d9", width=2), layer="below")]

# legend box drawn at the bottom (figure pixel positions)
box_x0, box_x1, box_y0, box_y1 = 224, 1570, 1063, 1114
legend_text_x = [308, 686, 827, 1284]
legend_line_len, legend_line_gap = 50, 11
legend_y = 1090
shapes.append(dict(type="rect", xref="paper", yref="paper", x0=px(box_x0), x1=px(box_x1),
                   y0=py(box_y1), y1=py(box_y0), line=dict(color="#222222", width=2),
                   fillcolor="rgba(0,0,0,0)", layer="above"))
for name, col, tx in zip(legend_names, COLORS, legend_text_x):
    x1 = tx - legend_line_gap
    x0 = x1 - legend_line_len
    shapes.append(dict(type="line", xref="paper", yref="paper", x0=px(x0), x1=px(x1),
                       y0=py(legend_y), y1=py(legend_y), line=dict(color=col, width=LW)))
    fig.add_annotation(x=px(tx), y=py(legend_y), xref="paper", yref="paper", text=name,
                       showarrow=False, xanchor="left", yanchor="middle",
                       font=dict(size=FS, color="#000000", family=FONT))

fig.update_layout(
    width=W, height=H,
    margin=dict(l=ML, r=MR, t=MT, b=MB, autoexpand=False),
    paper_bgcolor="white", plot_bgcolor="white",
    font=dict(family=FONT, size=FS, color="#000000"),
    showlegend=False,
    shapes=shapes,
    xaxis=dict(type="date", range=["2009-02-08", "2019-01-18"], tickvals=tick_vals,
               ticktext=tick_text, showgrid=False, zeroline=False, showline=False,
               automargin=False, ticks="outside", ticklen=6, tickcolor="#999999",
               tickfont=dict(size=FS, family=FONT, color="#000000")),
    yaxis=dict(range=[1, 6], dtick=1, tick0=1, tickformat=".2f", ticksuffix="%",
               showgrid=True, gridcolor="#d9d9d9", gridwidth=2, zeroline=False,
               showline=True, linecolor="#000000", linewidth=2, automargin=False,
               ticklabeloverflow="allow",
               ticks="outside", ticklen=6, tickcolor="#555555", ticklabelstandoff=12,
               tickfont=dict(size=FS, family=FONT, color="#000000")),
)

fig.write_html("out.html")
